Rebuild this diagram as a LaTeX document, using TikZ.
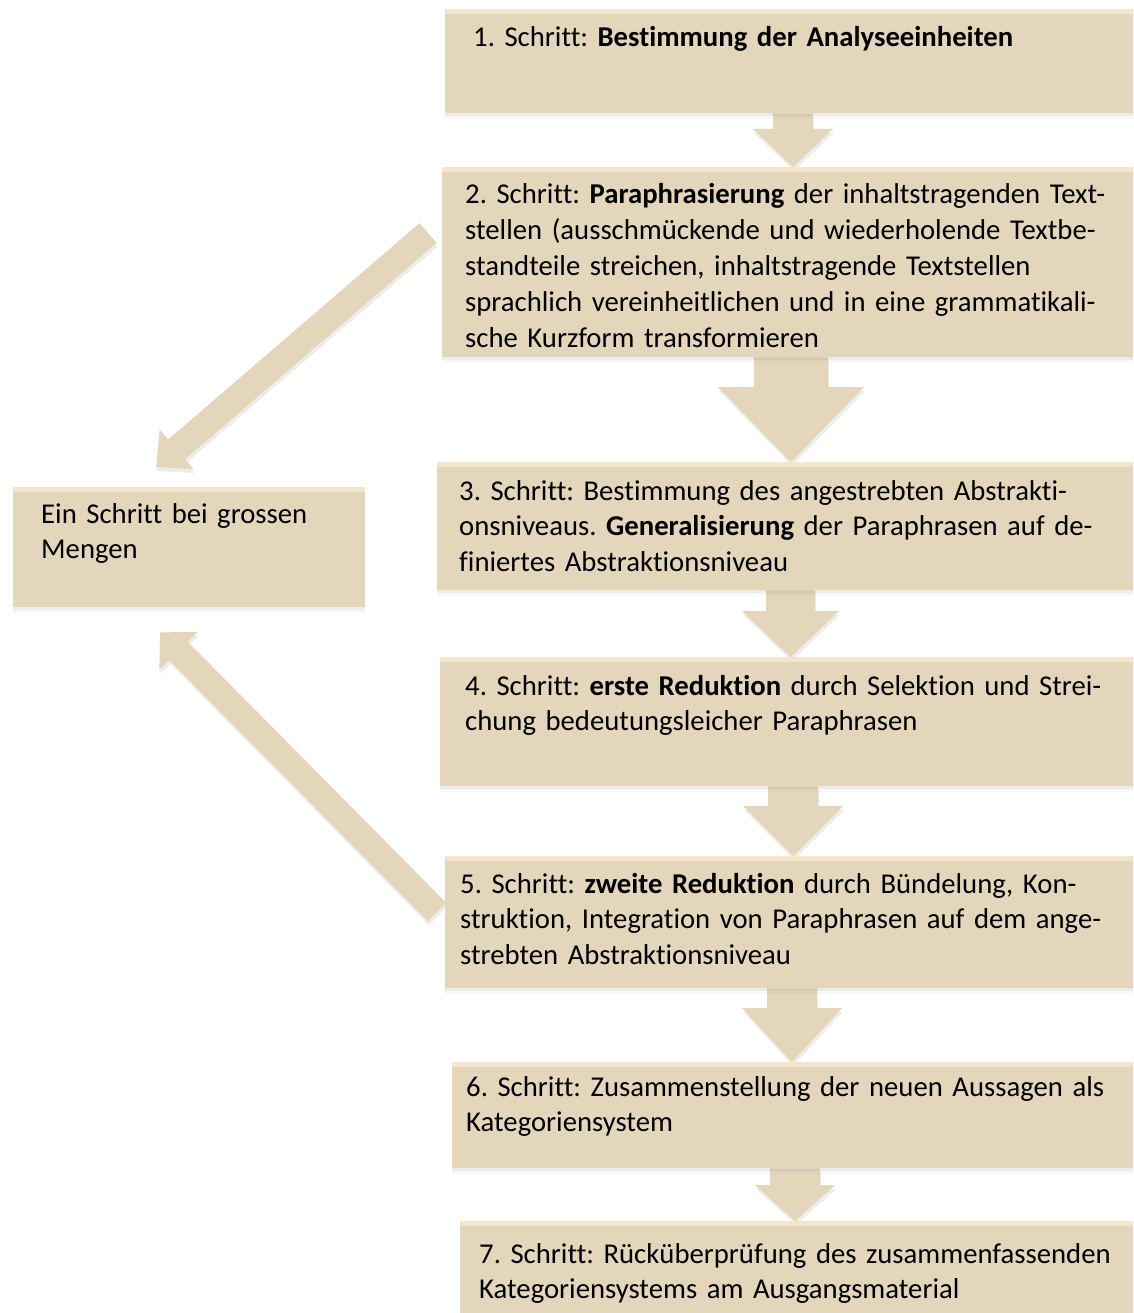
\documentclass[tikz,border=0pt]{standalone}
\usepackage{fontspec}
\setmainfont[Ligatures=NoCommon]{Carlito}
\usetikzlibrary{calc,shadows}
\frenchspacing
\definecolor{boxfill}{RGB}{227,214,187}
\definecolor{boxtop}{RGB}{243,230,202}
\tikzset{
  stepbox/.style={rectangle, draw=none, fill=boxfill, anchor=north west, inner sep=0pt,
    drop shadow={shadow xshift=0pt, shadow yshift=-3pt, opacity=.10},
    drop shadow={shadow xshift=0pt, shadow yshift=-6pt, opacity=.05},
    path picture={\fill[boxtop] (path picture bounding box.north west) rectangle ([yshift=-5pt]path picture bounding box.north east);}},
  frame/.style={anchor=north west, inner sep=0pt},
  steptext/.style={anchor=base west, inner sep=0pt, text width=700pt, align=left,
    font=\fontsize{28.7}{35.8}\selectfont\frenchspacing},
  arrfill/.style={fill=boxfill},
  arrshadow/.style={fill=black, opacity=.07},
}
\newcommand\arrowshape[6]{%
  \fill[#6] ($(#1)!#3pt!90:(#2)$) -- ($(ba-h)!#3pt!90:(#2)$) -- ($(ba-h)!#4pt!90:(#2)$) -- (#2)
    -- ($(ba-h)!#4pt!-90:(#2)$) -- ($(ba-h)!#3pt!-90:(#2)$) -- ($(#1)!#3pt!-90:(#2)$) -- cycle;}
\newcommand\blockarrow[5]{%
  \coordinate (ba-h) at ($(#2)!#5pt!(#1)$);
  \begin{scope}[transform canvas={xshift=1pt,yshift=-4pt}]
    \arrowshape{#1}{#2}{#3}{#4}{#5}{arrshadow}
  \end{scope}
  \arrowshape{#1}{#2}{#3}{#4}{#5}{arrfill}}
\begin{document}
\begin{tikzpicture}[x=1pt,y=-1pt]
\clip (0,0) rectangle (1133,1313);
\fill[white] (0,0) rectangle (1133,1313);
% box frames (positions)
\node[frame, minimum width=695pt, minimum height=104pt] (b1) at (445,9) {};
\node[frame, minimum width=698pt, minimum height=190pt] (b2) at (442,167) {};
\node[frame, minimum width=703pt, minimum height=128pt] (b3) at (437,462) {};
\node[frame, minimum width=700pt, minimum height=129pt] (b4) at (440,657) {};
\node[frame, minimum width=695pt, minimum height=132pt] (b5) at (445,856) {};
\node[frame, minimum width=688pt, minimum height=106pt] (b6) at (452,1062) {};
\node[frame, minimum width=680pt, minimum height=109pt] (b7) at (460,1221) {};
\node[frame, minimum width=352pt, minimum height=120pt] (L) at (13,487) {};
% arrow axes
\coordinate (ax1) at (793,0);
\coordinate (ax2) at (791,0);
\coordinate (ax3) at (790.5,0);
\coordinate (ax4) at (793,0);
\coordinate (ax5) at (792,0);
\coordinate (ax6) at (795,0);
\path (b1.south -| ax1) coordinate (a1s) (b2.north -| ax1) coordinate (a1e);
\path (b2.south -| ax2) coordinate (a2s) (b3.north -| ax2) coordinate (a2e);
\path (b3.south -| ax3) coordinate (a3s) (b4.north -| ax3) coordinate (a3e);
\path (b4.south -| ax4) coordinate (a4s) (b5.north -| ax4) coordinate (a4e);
\path (b5.south -| ax5) coordinate (a5s) (b6.north -| ax5) coordinate (a5e);
\path (b6.south -| ax6) coordinate (a6s) (b7.north -| ax6) coordinate (a6e);
\coordinate (d1t) at ($(b2.north west)+(-14,66)$);
\coordinate (d1h) at ($(L.north)+(-33,-20)$);
\coordinate (d2t) at ($(b5.north west)+(-8,56)$);
\coordinate (d2h) at ($(L.south)+(-29,25)$);
% connectors
\blockarrow{a1s}{a1e}{20}{40}{38}
\blockarrow{a2s}{a2e}{37}{73}{75}
\blockarrow{a3s}{a3e}{24.5}{48.5}{46}
\blockarrow{a4s}{a4e}{25}{50}{50}
\blockarrow{a5s}{a5e}{25}{50}{54}
\blockarrow{a6s}{a6e}{25}{40}{36}
\blockarrow{d1t}{d1h}{13}{26}{27}
\blockarrow{d2t}{d2h}{13}{27}{26}
% visible boxes
\node[stepbox, minimum width=695pt, minimum height=104pt] (s1) at (b1.north west) {};
\node[stepbox, minimum width=698pt, minimum height=190pt] (s2) at (b2.north west) {};
\node[stepbox, minimum width=703pt, minimum height=128pt] (s3) at (b3.north west) {};
\node[stepbox, minimum width=700pt, minimum height=129pt] (s4) at (b4.north west) {};
\node[stepbox, minimum width=695pt, minimum height=132pt] (s5) at (b5.north west) {};
\node[stepbox, minimum width=688pt, minimum height=106pt] (s6) at (b6.north west) {};
\node[stepbox, minimum width=680pt, minimum height=109pt] (s7) at (b7.north west) {};
\node[stepbox, minimum width=352pt, minimum height=120pt] (sL) at (L.north west) {};
% texts
\node[steptext] (t1) at (473,47) {1. Schritt: \textbf{Bestimmung der Analyseeinheiten}};
\node[steptext] (t2) at (465,204) {2. Schritt: \textbf{Paraphrasierung} der inhaltstragenden Text-\\stellen (ausschmückende und wiederholende Textbe-\\standteile streichen, inhaltstragende Textstellen\\sprachlich vereinheitlichen und in eine grammatikali-\\sche Kurzform transformieren};
\node[steptext] (t3) at (459,500) {3. Schritt: Bestimmung des angestrebten Abstrakti-\\onsniveaus. \textbf{Generalisierung} der Paraphrasen auf de-\\finiertes Abstraktionsniveau};
\node[steptext] (t4) at (465,695) {4. Schritt: \textbf{erste Reduktion} durch Selektion und Strei-\\chung bedeutungsleicher Paraphrasen};
\node[steptext] (t5) at (460,893) {5. Schritt: \textbf{zweite Reduktion} durch Bündelung, Kon-\\struktion, Integration von Paraphrasen auf dem ange-\\strebten Abstraktionsniveau};
\node[steptext] (t6) at (466,1096) {6. Schritt: Zusammenstellung der neuen Aussagen als\\Kategoriensystem};
\node[steptext] (t7) at (479,1263) {7. Schritt: Rücküberprüfung des zusammenfassenden\\Kategoriensystems am Ausgangsmaterial};
\node[steptext, text width=320pt] (tL) at (41,523) {Ein Schritt bei grossen\\Mengen};
\end{tikzpicture}
\end{document}
